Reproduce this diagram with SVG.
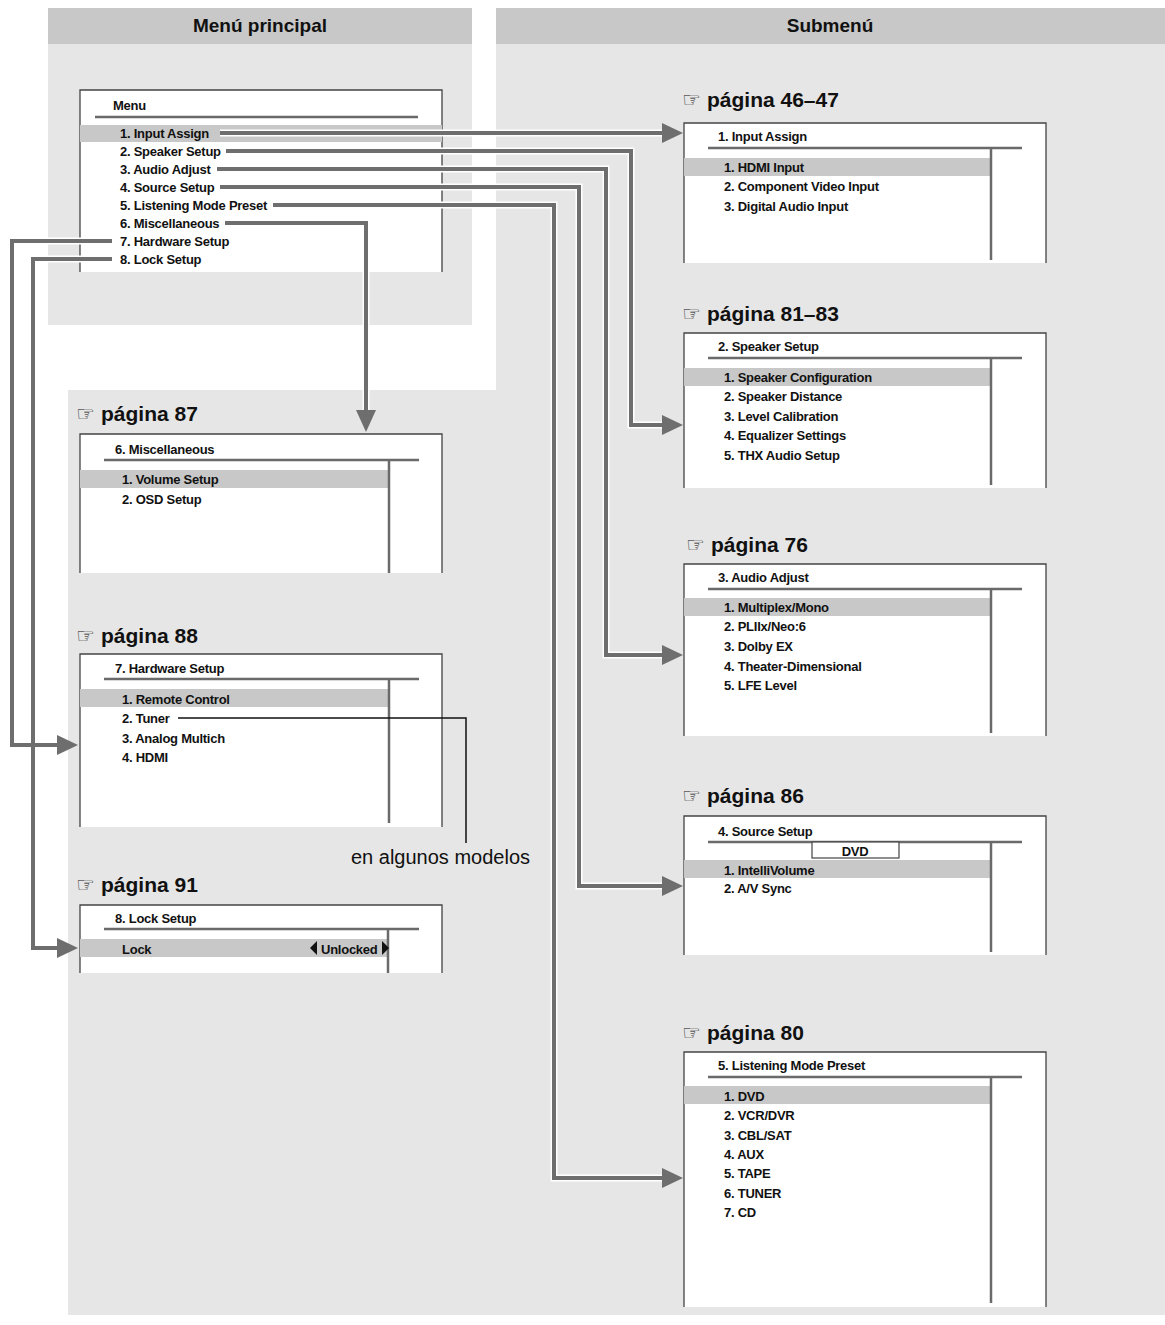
<svg xmlns="http://www.w3.org/2000/svg" width="1165" height="1325" viewBox="0 0 1165 1325">
<style>
.hd{font-family:"Liberation Sans",Arial,sans-serif;font-weight:bold;font-size:19px;fill:#111}
.pg{font-family:"Liberation Sans",Arial,sans-serif;font-weight:bold;font-size:21px;fill:#111}
.ic{font-family:"DejaVu Sans",sans-serif;font-size:21px;fill:#111}
.it{font-family:"Liberation Sans",Arial,sans-serif;font-weight:bold;font-size:13px;letter-spacing:-0.25px;fill:#111}
.box{fill:#fff;stroke:#444;stroke-width:1.3}
.hl{fill:#c8c8c8}
.ln{stroke:#6a6a6a;stroke-width:2.5;fill:none}
.halo{stroke:#fff;stroke-width:7;fill:none;stroke-linejoin:miter}
.con{stroke:#6e6e6e;stroke-width:4;fill:none;stroke-linejoin:miter}
.ah{fill:#6e6e6e}
</style>
<rect width="1165" height="1325" fill="#fff"/>
<g id="panels">
<rect x="48" y="8" width="424" height="36" fill="#c8c8c8"/>
<rect x="48" y="44" width="424" height="281" fill="#e6e6e6"/>
<rect x="496" y="8" width="669" height="36" fill="#c8c8c8"/>
<path d="M496 44H1165V1315H68V390H496Z" fill="#e6e6e6"/>
<text class="hd" x="260" y="32" text-anchor="middle">Menú principal</text>
<text class="hd" x="830" y="32" text-anchor="middle">Submenú</text>
</g>
<g id="main">
<path class="box" d="M80 272V90H442V272"/>
<text class="it" x="113" y="110">Menu</text>
<line class="ln" x1="95" y1="117" x2="418" y2="117"/>
<rect class="hl" x="80" y="125" width="362" height="17"/>
<text class="it" x="120" y="138">1. Input Assign</text>
<text class="it" x="120" y="156">2. Speaker Setup</text>
<text class="it" x="120" y="174">3. Audio Adjust</text>
<text class="it" x="120" y="192">4. Source Setup</text>
<text class="it" x="120" y="210">5. Listening Mode Preset</text>
<text class="it" x="120" y="228">6. Miscellaneous</text>
<text class="it" x="120" y="246">7. Hardware Setup</text>
<text class="it" x="120" y="264">8. Lock Setup</text>
</g>
<g id="misc">
<text class="ic" x="76" y="421">☞</text><text class="pg" x="101" y="421">página 87</text>
<path class="box" d="M80 573V434H442V573"/>
<text class="it" x="115" y="454">6. Miscellaneous</text>
<line class="ln" x1="104" y1="460" x2="419" y2="460"/>
<rect class="hl" x="80" y="470" width="309" height="18"/>
<line class="ln" x1="389" y1="460" x2="389" y2="573"/>
<text class="it" x="122" y="484">1. Volume Setup</text>
<text class="it" x="122" y="504">2. OSD Setup</text>
</g>
<g id="hardware">
<text class="ic" x="76" y="643">☞</text><text class="pg" x="101" y="643">página 88</text>
<path class="box" d="M80 827V654H442V827"/>
<text class="it" x="115" y="673">7. Hardware Setup</text>
<line class="ln" x1="104" y1="679" x2="419" y2="679"/>
<rect class="hl" x="80" y="689" width="309" height="18"/>
<line class="ln" x1="389" y1="679" x2="389" y2="823"/>
<text class="it" x="122" y="704">1. Remote Control</text>
<text class="it" x="122" y="723">2. Tuner</text>
<text class="it" x="122" y="743">3. Analog Multich</text>
<text class="it" x="122" y="762">4. HDMI</text>
<path d="M178 718H466V843" stroke="#111" stroke-width="1.5" fill="none"/>
<text x="530" y="864" text-anchor="end" font-family="Liberation Sans,Arial,sans-serif" font-size="20" fill="#111">en algunos modelos</text>
</g>
<g id="lock">
<text class="ic" x="76" y="892">☞</text><text class="pg" x="101" y="892">página 91</text>
<path class="box" d="M80 973V905H442V973"/>
<text class="it" x="115" y="923">8. Lock Setup</text>
<line class="ln" x1="104" y1="929" x2="419" y2="929"/>
<rect class="hl" x="80" y="939" width="309" height="18"/>
<line class="ln" x1="388" y1="929" x2="388" y2="973"/>
<text class="it" x="122" y="954">Lock</text>
<path d="M317 941L310 948L317 955Z" fill="#111"/>
<text class="it" x="321" y="954">Unlocked</text>
<path d="M382 941L389 948L382 955Z" fill="#111"/>
</g>
<g id="input">
<text class="ic" x="682" y="107">☞</text><text class="pg" x="707" y="107">página 46–47</text>
<path class="box" d="M684 263V123H1046V263"/>
<text class="it" x="718" y="141">1. Input Assign</text>
<line class="ln" x1="708" y1="148" x2="1022" y2="148"/>
<rect class="hl" x="684" y="158" width="307" height="18"/>
<line class="ln" x1="991" y1="148" x2="991" y2="260"/>
<text class="it" x="724" y="172">1. HDMI Input</text>
<text class="it" x="724" y="191">2. Component Video Input</text>
<text class="it" x="724" y="211">3. Digital Audio Input</text>
</g>
<g id="speaker">
<text class="ic" x="682" y="321">☞</text><text class="pg" x="707" y="321">página 81–83</text>
<path class="box" d="M684 488V333H1046V488"/>
<text class="it" x="718" y="351">2. Speaker Setup</text>
<line class="ln" x1="708" y1="358" x2="1022" y2="358"/>
<rect class="hl" x="684" y="368" width="307" height="18"/>
<line class="ln" x1="991" y1="358" x2="991" y2="485"/>
<text class="it" x="724" y="382">1. Speaker Configuration</text>
<text class="it" x="724" y="401">2. Speaker Distance</text>
<text class="it" x="724" y="421">3. Level Calibration</text>
<text class="it" x="724" y="440">4. Equalizer Settings</text>
<text class="it" x="724" y="460">5. THX Audio Setup</text>
</g>
<g id="audio">
<text class="ic" x="686" y="552">☞</text><text class="pg" x="711" y="552">página 76</text>
<path class="box" d="M684 736V564H1046V736"/>
<text class="it" x="718" y="582">3. Audio Adjust</text>
<line class="ln" x1="708" y1="589" x2="1022" y2="589"/>
<rect class="hl" x="684" y="598" width="307" height="18"/>
<line class="ln" x1="991" y1="589" x2="991" y2="733"/>
<text class="it" x="724" y="612">1. Multiplex/Mono</text>
<text class="it" x="724" y="631">2. PLIIx/Neo:6</text>
<text class="it" x="724" y="651">3. Dolby EX</text>
<text class="it" x="724" y="671">4. Theater-Dimensional</text>
<text class="it" x="724" y="690">5. LFE Level</text>
</g>
<g id="source">
<text class="ic" x="682" y="803">☞</text><text class="pg" x="707" y="803">página 86</text>
<path class="box" d="M684 955V816H1046V955"/>
<text class="it" x="718" y="836">4. Source Setup</text>
<line class="ln" x1="708" y1="842" x2="1022" y2="842"/>
<rect x="812" y="842" width="87" height="16" fill="#fff" stroke="#444" stroke-width="1.2"/>
<text class="it" x="855" y="856" text-anchor="middle">DVD</text>
<rect class="hl" x="684" y="860" width="307" height="18"/>
<line class="ln" x1="991" y1="842" x2="991" y2="952"/>
<text class="it" x="724" y="875">1. IntelliVolume</text>
<text class="it" x="724" y="893">2. A/V Sync</text>
</g>
<g id="listening">
<text class="ic" x="682" y="1040">☞</text><text class="pg" x="707" y="1040">página 80</text>
<path class="box" d="M684 1307V1052H1046V1307"/>
<text class="it" x="718" y="1070">5. Listening Mode Preset</text>
<line class="ln" x1="708" y1="1077" x2="1022" y2="1077"/>
<rect class="hl" x="684" y="1086" width="307" height="18"/>
<line class="ln" x1="991" y1="1077" x2="991" y2="1303"/>
<text class="it" x="724" y="1101">1. DVD</text>
<text class="it" x="724" y="1120">2. VCR/DVR</text>
<text class="it" x="724" y="1140">3. CBL/SAT</text>
<text class="it" x="724" y="1159">4. AUX</text>
<text class="it" x="724" y="1178">5. TAPE</text>
<text class="it" x="724" y="1198">6. TUNER</text>
<text class="it" x="724" y="1217">7. CD</text>
</g>
<g id="connectors">
<path class="halo" d="M220 133H665"/>
<path class="halo" d="M226 151H631V425H665"/>
<path class="halo" d="M217 169H606V655H665"/>
<path class="halo" d="M220 187H579V886H665"/>
<path class="halo" d="M273 205H554V1178H665"/>
<path class="halo" d="M225 223H366V412"/>
<path class="halo" d="M112 241H12V745H60"/>
<path class="halo" d="M112 259H33V948H60"/>
<path class="con" d="M220 133H665"/>
<path class="con" d="M226 151H631V425H665"/>
<path class="con" d="M217 169H606V655H665"/>
<path class="con" d="M220 187H579V886H665"/>
<path class="con" d="M273 205H554V1178H665"/>
<path class="con" d="M225 223H366V412"/>
<path class="con" d="M112 241H12V745H60"/>
<path class="con" d="M112 259H33V948H60"/>
<path class="ah" d="M662 123L683 133L662 143Z"/>
<path class="ah" d="M662 415L683 425L662 435Z"/>
<path class="ah" d="M662 645L683 655L662 665Z"/>
<path class="ah" d="M662 876L683 886L662 896Z"/>
<path class="ah" d="M662 1168L683 1178L662 1188Z"/>
<path class="ah" d="M356 410L366 432L376 410Z"/>
<path class="ah" d="M57 735L78 745L57 755Z"/>
<path class="ah" d="M57 938L78 948L57 958Z"/>
</g>
</svg>
